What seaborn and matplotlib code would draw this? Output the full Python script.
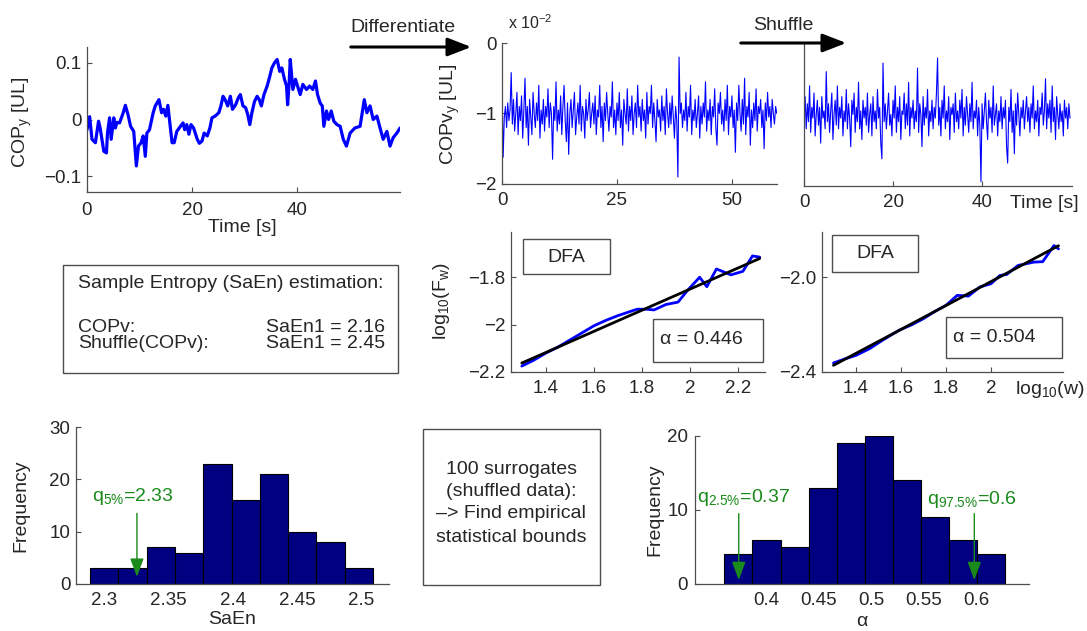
import numpy as np
import seaborn as sns
import matplotlib.pyplot as plt
from matplotlib.patches import Rectangle, FancyArrowPatch
from matplotlib.ticker import FuncFormatter

# ---------------- data ----------------
# COP_y trajectory (time [s], position [UL])
cop_t = [0.0, 0.5, 0.95, 1.6, 2.2, 2.5, 3.2, 3.7, 3.9, 4.3, 4.6, 5.1, 5.4, 5.7, 6.2, 6.9,
         7.3, 7.8, 8.3, 8.9, 9.4, 9.8, 10.3, 10.7, 11.1, 11.4, 11.9, 12.6, 13.0, 13.7, 14.2,
         14.6, 15.0, 15.4, 15.7, 16.2, 16.6, 17.1, 17.8, 18.3, 18.6, 19.0, 19.4, 19.8, 20.3,
         21.0, 21.4, 21.9, 22.3, 22.9, 23.4, 23.8, 24.4, 25.1, 25.5, 25.9, 26.3, 26.8, 27.3,
         27.7, 28.3, 28.8, 29.2, 29.7, 30.2, 30.6, 31.0, 31.4, 31.9, 32.4, 32.8, 33.2, 33.7,
         34.3, 34.8, 35.2, 35.7, 36.2, 36.7, 37.1, 37.6, 38.0, 38.2, 38.5, 38.7, 39.2, 39.7,
         40.1, 40.6, 41.1, 41.8, 42.4, 43.0, 43.5, 43.9, 44.4, 44.8, 45.1, 45.6, 46.0, 46.5,
         47.0, 47.6, 48.2, 48.8, 49.4, 50.1, 51.0, 52.0, 52.8, 53.3, 53.9, 54.5, 55.2, 55.8,
         56.4, 57.1, 57.7, 58.3, 59.0, 59.6]
cop_y = [-0.018, 0.005, -0.035, -0.041, -0.003, -0.015, -0.056, -0.059, -0.024, 0.003, -0.035,
         0.003, -0.015, -0.005, -0.006, 0.012, 0.025, 0.009, -0.012, -0.021, -0.082, -0.047,
         -0.041, -0.029, -0.065, -0.024, -0.018, 0.012, 0.024, 0.035, 0.012, 0.018, 0.006,
         0.025, 0.000, -0.041, -0.041, -0.021, -0.012, -0.006, -0.018, -0.009, -0.026, -0.009,
         -0.015, -0.035, -0.042, -0.038, -0.024, -0.029, -0.015, 0.003, 0.006, 0.012, 0.024,
         0.041, 0.035, 0.024, 0.041, 0.018, 0.026, 0.038, 0.044, 0.024, 0.021, 0.009, -0.009,
         0.012, 0.032, 0.041, 0.035, 0.024, 0.044, 0.059, 0.076, 0.091, 0.100, 0.106, 0.085,
         0.091, 0.071, 0.059, 0.026, 0.065, 0.106, 0.053, 0.071, 0.059, 0.044, 0.062, 0.053,
         0.059, 0.053, 0.068, 0.044, 0.029, 0.024, -0.012, 0.015, 0.000, 0.015, -0.003, -0.009,
         -0.012, -0.035, -0.047, -0.024, -0.015, -0.012, 0.035, 0.012, 0.024, 0.000, 0.006,
         -0.015, -0.035, -0.021, -0.047, -0.032, -0.024, -0.015]

# COP velocity (x 1e-2 UL), sampled every 0.25 s
dt = 0.25
copv_e2 = [
    -0.60, -1.62, -1.05, -0.90, -1.20, -0.85, -1.10, -0.95, -0.42, -1.15, -0.80, -1.25, -1.00, -0.70, -1.30, -0.90, -1.10, -0.75, -1.35, -0.95,
    -0.50, -1.20, -0.90, -1.45, -0.80, -1.05, -1.30, -0.70, -1.00, -1.20, -0.85, -1.10, -0.60, -1.35, -0.95, -1.15, -0.80, -1.25, -0.90, -1.05,
    -0.65, -1.20, -0.85, -1.00, -1.65, -0.90, -1.10, -0.55, -1.25, -0.95, -1.15, -0.75, -1.30, -0.90, -0.60, -1.10, -1.40, -0.85, -1.58, -1.00,
    -0.80, -1.20, -0.95, -0.70, -1.30, -1.05, -0.85, -1.15, -0.60, -1.25, -0.90, -1.00, -1.35, -0.80, -1.10, -0.95, -0.70, -1.20, -1.00, -0.85,
    -1.15, -0.75, -1.30, -0.95, -1.05, -0.60, -1.20, -0.90, -1.40, -0.85, -1.10, -0.70, -1.00, -1.25, -0.90, -1.05, -0.55, -1.20, -0.95, -1.30,
    -0.85, -1.10, -0.70, -1.20, -0.95, -1.45, -0.80, -1.00, -1.15, -0.65, -1.25, -0.90, -1.10, -0.75, -1.30, -1.00, -0.85, -1.20, -0.60, -1.05,
    -0.90, -1.25, -0.80, -1.10, -0.95, -1.35, -0.70, -1.15, -0.90, -1.00, -0.60, -1.20, -0.85, -1.10, -1.40, -0.80, -1.05, -0.95, -1.25, -0.75,
    -1.10, -0.90, -1.30, -0.65, -1.00, -1.20, -0.85, -1.15, -0.75, -1.05, -1.35, -0.90, -1.10, -1.90, -0.20, -1.00, -0.85, -1.20, -0.95, -1.10,
    -0.70, -1.25, -0.90, -1.05, -0.60, -1.30, -0.95, -1.10, -0.80, -1.20, -1.00, -0.75, -1.35, -0.90, -1.15, -0.85, -1.05, -0.55, -1.25, -0.95,
    -1.10, -0.80, -1.30, -0.90, -1.05, -0.65, -1.20, -1.45, -0.85, -1.00, -0.70, -1.15, -0.95, -1.25, -0.80, -1.10, -0.60, -1.30, -0.90, -1.05,
    -0.75, -1.20, -0.95, -1.55, -0.85, -1.10, -0.60, -1.00, -1.25, -0.80, -1.15, -0.50, -1.30, -0.90, -1.05, -0.70, -1.45, -0.95, -1.20, -0.85,
    -1.10, -0.65, -1.25, -0.90, -1.00, -0.80, -1.20, -0.95, -1.50, -0.85, -1.10, -0.70, -1.05, -0.90, -1.20, -0.80, -1.00, -1.15, -0.90, -1.00,
]

# shuffled COP velocity (x 1e-2 UL)
shuf_e2 = [
    -0.95, -0.75, -1.20, -0.85, -1.10, -0.60, -1.25, -0.90, -1.05, -0.70, -1.30, -1.00, -0.80, -1.15, -0.90, -1.40, -0.75, -1.05, -0.95, -1.20,
    -0.40, -1.10, -0.85, -1.25, -0.95, -0.70, -1.35, -1.00, -0.80, -1.15, -0.60, -1.20, -0.90, -1.05, -0.75, -1.30, -0.95, -1.10, -0.65, -1.20,
    -0.85, -1.05, -1.45, -0.80, -1.00, -0.70, -1.25, -0.90, -1.10, -0.55, -1.20, -0.95, -1.35, -0.80, -1.05, -0.90, -1.15, -0.70, -1.25, -1.00,
    -0.85, -1.30, -0.75, -1.10, -0.95, -1.20, -0.65, -1.05, -0.90, -1.40, -1.62, -0.28, -1.10, -0.85, -1.20, -0.95, -0.70, -1.15, -1.00, -1.30,
    -0.80, -1.05, -0.60, -1.25, -0.90, -1.10, -0.75, -1.35, -0.95, -1.00, -0.70, -1.20, -0.85, -1.15, -0.55, -1.30, -0.90, -1.05, -0.80, -1.20,
    -0.95, -1.10, -0.35, -1.25, -0.85, -1.00, -1.45, -0.75, -1.15, -0.90, -1.05, -0.65, -1.30, -0.95, -1.10, -0.80, -1.20, -0.90, -1.05, -0.70,
    -0.21, -1.15, -0.90, -1.30, -0.80, -1.05, -0.60, -1.20, -0.95, -1.10, -0.75, -1.35, -0.90, -1.00, -0.85, -1.25, -0.70, -1.10, -0.95, -1.20,
    -0.80, -1.05, -0.65, -1.30, -0.90, -1.15, -0.75, -1.00, -1.25, -0.85, -1.10, -0.55, -1.20, -0.95, -1.05, -0.80, -1.30, -0.90, -1.15, -1.94,
    -0.85, -1.20, -0.95, -0.70, -1.10, -1.35, -0.80, -1.05, -0.90, -1.25, -0.60, -1.15, -1.00, -0.85, -1.30, -0.95, -1.10, -0.75, -1.20, -0.90,
    -1.05, -0.80, -1.45, -1.68, -0.90, -1.10, -0.65, -1.25, -0.95, -1.55, -0.85, -1.15, -0.70, -1.00, -1.30, -0.90, -1.05, -0.80, -1.20, -0.95,
    -0.75, -1.10, -0.90, -1.25, -0.85, -1.05, -0.60, -1.20, -0.95, -1.10, -0.80, -1.30, -0.90, -1.00, -0.70, -1.15, -0.95, -0.50, -1.20, -0.85,
    -1.05, -0.80, -1.25, -0.60, -1.10, -0.90, -1.35, -0.75, -1.00, -1.20, -0.85, -1.10, -0.95, -1.30, -0.80, -1.05, -0.90, -1.20, -0.85, -1.05,
]

# DFA fluctuation functions
dfa_logw_v = [1.30, 1.35, 1.40, 1.45, 1.50, 1.55, 1.60, 1.65, 1.70, 1.75, 1.78, 1.82, 1.85,
              1.90, 1.95, 1.99, 2.04, 2.07, 2.11, 2.17, 2.22, 2.26, 2.29]
dfa_logF_v = [-2.175, -2.150, -2.120, -2.095, -2.065, -2.035, -2.005, -1.982, -1.962, -1.945,
              -1.935, -1.935, -1.938, -1.915, -1.905, -1.855, -1.800, -1.840, -1.765, -1.790,
              -1.775, -1.710, -1.715]
alpha_v, icpt_v = 0.446, -2.742

dfa_logw_s = [1.30, 1.35, 1.40, 1.46, 1.52, 1.59, 1.65, 1.70, 1.75, 1.80, 1.85, 1.90, 1.95,
              2.00, 2.04, 2.07, 2.12, 2.19, 2.23, 2.28, 2.30]
dfa_logF_s = [-2.362, -2.345, -2.330, -2.302, -2.265, -2.225, -2.200, -2.175, -2.145, -2.119,
              -2.077, -2.080, -2.042, -2.028, -1.993, -1.989, -1.951, -1.937, -1.935, -1.867,
              -1.881]
alpha_s, icpt_s = 0.504, -3.027

# surrogate distributions (100 shuffles)
saen_edges = [2.289, 2.311, 2.333, 2.355, 2.377, 2.399, 2.421, 2.443, 2.465, 2.487, 2.509]
saen_counts = [3, 3, 7, 6, 23, 16, 21, 10, 8, 3]
saen_q5 = 2.3254

alpha_edges = [0.360, 0.387, 0.414, 0.4406, 0.4673, 0.4937, 0.5203, 0.547, 0.574, 0.6006, 0.6273]
alpha_counts = [4, 6, 5, 13, 19, 20, 14, 9, 6, 4]
alpha_q025, alpha_q975 = 0.374, 0.598

saen_copv, saen_shuf = 2.16, 2.45

# ---------------- style ----------------
sns.set_theme(style="ticks")
plt.rcParams['font.family'] = ['Liberation Sans', 'DejaVu Sans']
plt.rcParams['mathtext.fontset'] = 'custom'
plt.rcParams['mathtext.rm'] = 'Liberation Sans'
plt.rcParams['mathtext.it'] = 'Liberation Sans:italic'
plt.rcParams['mathtext.default'] = 'regular'

W, H = 1087, 631
FS = 14
TS = 13.5
BLUE = '#0000ff'
NAVY = '#000080'
GREEN = '#1a8a1a'
SPINE = '0.3'

fig = plt.figure(figsize=(W / 100, H / 100), dpi=100)


def rect(l, t, r, b):
    return [l / W, 1 - b / H, (r - l) / W, (b - t) / H]


def fxy(x, y):
    return x / W, 1 - y / H


def label(x, y, s, **kw):
    kw.setdefault('fontsize', FS)
    kw.setdefault('ha', 'center')
    kw.setdefault('va', 'center')
    fig.text(*fxy(x, y), s, **kw)


minus_fmt = FuncFormatter(lambda v, _: ('%g' % v).replace('-', '\u2212'))


def style(ax, xlim, ylim, xticks, yticks, xpad=5.5, ypad=4):
    ax.set_xlim(xlim)
    ax.set_ylim(ylim)
    ax.set_xticks(xticks)
    ax.set_yticks(yticks)
    ax.xaxis.set_major_formatter(minus_fmt)
    ax.yaxis.set_major_formatter(minus_fmt)
    for s in ['top', 'right']:
        ax.spines[s].set_visible(False)
    for s in ['left', 'bottom']:
        ax.spines[s].set_color(SPINE)
        ax.spines[s].set_linewidth(0.9)
    ax.tick_params(direction='in', length=3.5, width=0.8, color=SPINE, labelsize=TS)
    ax.tick_params(axis='x', pad=xpad)
    ax.tick_params(axis='y', pad=ypad)
    ax.set_xlabel('')
    ax.set_ylabel('')
    ax.patch.set_alpha(0)


def textbox(l, t, r, b):
    fig.add_artist(Rectangle((l / W, 1 - b / H), (r - l) / W, (b - t) / H,
                             transform=fig.transFigure, facecolor='white',
                             edgecolor='0.3', lw=1.0, zorder=3))


def fig_arrow(x0, x1, y):
    fig.add_artist(FancyArrowPatch(fxy(x0, y), fxy(x1, y), transform=fig.transFigure,
                                   arrowstyle='-|>,head_length=0.9,head_width=0.35',
                                   mutation_scale=16, lw=2.2, color='black'))


# ---------------- COP_y ----------------
ax1 = fig.add_axes(rect(87, 47, 400, 192))
sns.lineplot(x=cop_t, y=cop_y, ax=ax1, color=BLUE, lw=2.3, estimator=None, sort=False)
style(ax1, (0, 59.6), (-0.128, 0.128), [0, 20, 40], [-0.1, 0, 0.1], xpad=7)
label(22, 122, 'COP$_y$ [UL]', rotation=90)
label(242, 228, 'Time [s]')

# ---------------- COPv_y ----------------
t_v = np.arange(len(copv_e2)) * dt
ax2 = fig.add_axes(rect(502, 43, 777, 184))
sns.lineplot(x=t_v, y=copv_e2, ax=ax2, color=BLUE, lw=0.8, estimator=None, sort=False)
style(ax2, (0, 59.8), (-2, 0), [0, 25, 50], [-2, -1, 0])
label(450, 114, 'COPv$_y$ [UL]', rotation=90)
label(508, 23, 'x 10$^{\u22122}$', ha='left', fontsize=11.5)

# ---------------- shuffled COPv ----------------
t_s = np.arange(len(shuf_e2)) * dt
ax3 = fig.add_axes(rect(804, 43, 1072, 186))
sns.lineplot(x=t_s, y=shuf_e2, ax=ax3, color=BLUE, lw=0.8, estimator=None, sort=False)
style(ax3, (0, 60.2), (-2, 0), [0, 20, 40], [])
label(1010, 203, 'Time [s]', ha='left')

# arrows between panels
label(350, 27, 'Differentiate', ha='left')
fig_arrow(348, 474, 47)
label(753, 25, 'Shuffle', ha='left')
fig_arrow(738, 849, 43)

# ---------------- DFA (COPv) ----------------
ax4 = fig.add_axes(rect(511, 232, 765, 372))
sns.lineplot(x=dfa_logw_v, y=dfa_logF_v, ax=ax4, color=BLUE, lw=2.0, estimator=None, sort=False)
fit_x = np.array([dfa_logw_v[0], dfa_logw_v[-1]])
ax4.plot(fit_x, icpt_v + alpha_v * fit_x, color='black', lw=2.0)
style(ax4, (1.255, 2.312), (-2.2, -1.609), [1.4, 1.6, 1.8, 2.0, 2.2], [-2.2, -2.0, -1.8])
label(442, 301, 'log$_{10}$(F$_w$)', rotation=90)
textbox(523, 239, 610, 274)
label(566.5, 257, 'DFA', zorder=4)
textbox(653, 319, 763, 362)
label(660, 339, f'\u03b1 = {alpha_v:.3f}', ha='left', zorder=4)

# ---------------- DFA (shuffled) ----------------
ax5 = fig.add_axes(rect(822, 232, 1063, 372))
sns.lineplot(x=dfa_logw_s, y=dfa_logF_s, ax=ax5, color=BLUE, lw=2.0, estimator=None, sort=False)
fit_x = np.array([dfa_logw_s[0], dfa_logw_s[-1]])
ax5.plot(fit_x, icpt_s + alpha_s * fit_x, color='black', lw=2.0)
style(ax5, (1.249, 2.32), (-2.4, -1.81), [1.4, 1.6, 1.8, 2.0], [-2.4, -2.0])
ax5.set_yticklabels(['\u22122.4', '\u22122.0'])
label(1015, 389, 'log$_{10}$(w)', ha='left')
textbox(832, 235, 918, 272)
label(875, 254, 'DFA', zorder=4)
textbox(946, 317, 1062, 358)
label(953, 337, f'\u03b1 = {alpha_s:.3f}', ha='left', zorder=4)

# ---------------- SaEn box ----------------
textbox(63, 265, 398, 373)
label(78, 283, 'Sample Entropy (SaEn) estimation:', ha='left', zorder=4)
label(78, 327, 'COPv:', ha='left', zorder=4)
label(385, 327, f'SaEn1 = {saen_copv:.2f}', ha='right', zorder=4)
label(78, 343, 'Shuffle(COPv):', ha='left', zorder=4)
label(385, 343, f'SaEn1 = {saen_shuf:.2f}', ha='right', zorder=4)

# ---------------- surrogate box ----------------
textbox(423, 429, 600, 585)
for yy, s in zip([469, 492, 514, 537],
                 ['100 surrogates', '(shuffled data):', '\u2013> Find empirical', 'statistical bounds']):
    label(511, yy, s, zorder=4)

# ---------------- SaEn histogram ----------------
ax6 = fig.add_axes(rect(76, 427, 389, 584))
e = np.array(saen_edges)
sns.histplot(x=(e[:-1] + e[1:]) / 2, weights=saen_counts, bins=saen_edges, ax=ax6,
             color=NAVY, edgecolor='black', linewidth=0.8, alpha=1)
style(ax6, (2.278, 2.5215), (0, 30), [2.3, 2.35, 2.4, 2.45, 2.5], [0, 10, 20, 30])
ax6.annotate('', xy=(saen_q5, 1.4), xytext=(saen_q5, 13.5),
             arrowprops=dict(arrowstyle='-|>,head_length=0.8,head_width=0.3',
                             mutation_scale=14, color=GREEN, lw=1.0, shrinkA=0, shrinkB=0))
ax6.text(2.2904, 15.9, 'q$_{5\\%}$=' + f'{saen_q5:.3g}', color=GREEN, fontsize=FS,
         ha='left', va='baseline')
label(21, 506, 'Frequency', rotation=90)
label(232, 620, 'SaEn')

# ---------------- alpha histogram ----------------
ax7 = fig.add_axes(rect(695, 436, 1029, 584))
e = np.array(alpha_edges)
sns.histplot(x=(e[:-1] + e[1:]) / 2, weights=alpha_counts, bins=alpha_edges, ax=ax7,
             color=NAVY, edgecolor='black', linewidth=0.8, alpha=1)
style(ax7, (0.3324, 0.650), (0, 20), [0.4, 0.45, 0.5, 0.55, 0.6], [0, 10, 20], ypad=5)
for q in (alpha_q025, alpha_q975):
    ax7.annotate('', xy=(q, 0.55), xytext=(q, 9.5),
                 arrowprops=dict(arrowstyle='-|>,head_length=0.8,head_width=0.3',
                                 mutation_scale=14, color=GREEN, lw=1.0, shrinkA=0, shrinkB=0))
ax7.text(0.3343, 11.1, 'q$_{2.5\\%}$=' + f'{alpha_q025:.2g}', color=GREEN, fontsize=FS,
         ha='left', va='baseline')
ax7.text(0.553, 10.8, 'q$_{97.5\\%}$=' + f'{alpha_q975:.2g}', color=GREEN, fontsize=FS,
         ha='left', va='baseline')
label(655, 510, 'Frequency', rotation=90)
label(862, 622, '\u03b1')

fig.savefig('out.png', dpi=100)
